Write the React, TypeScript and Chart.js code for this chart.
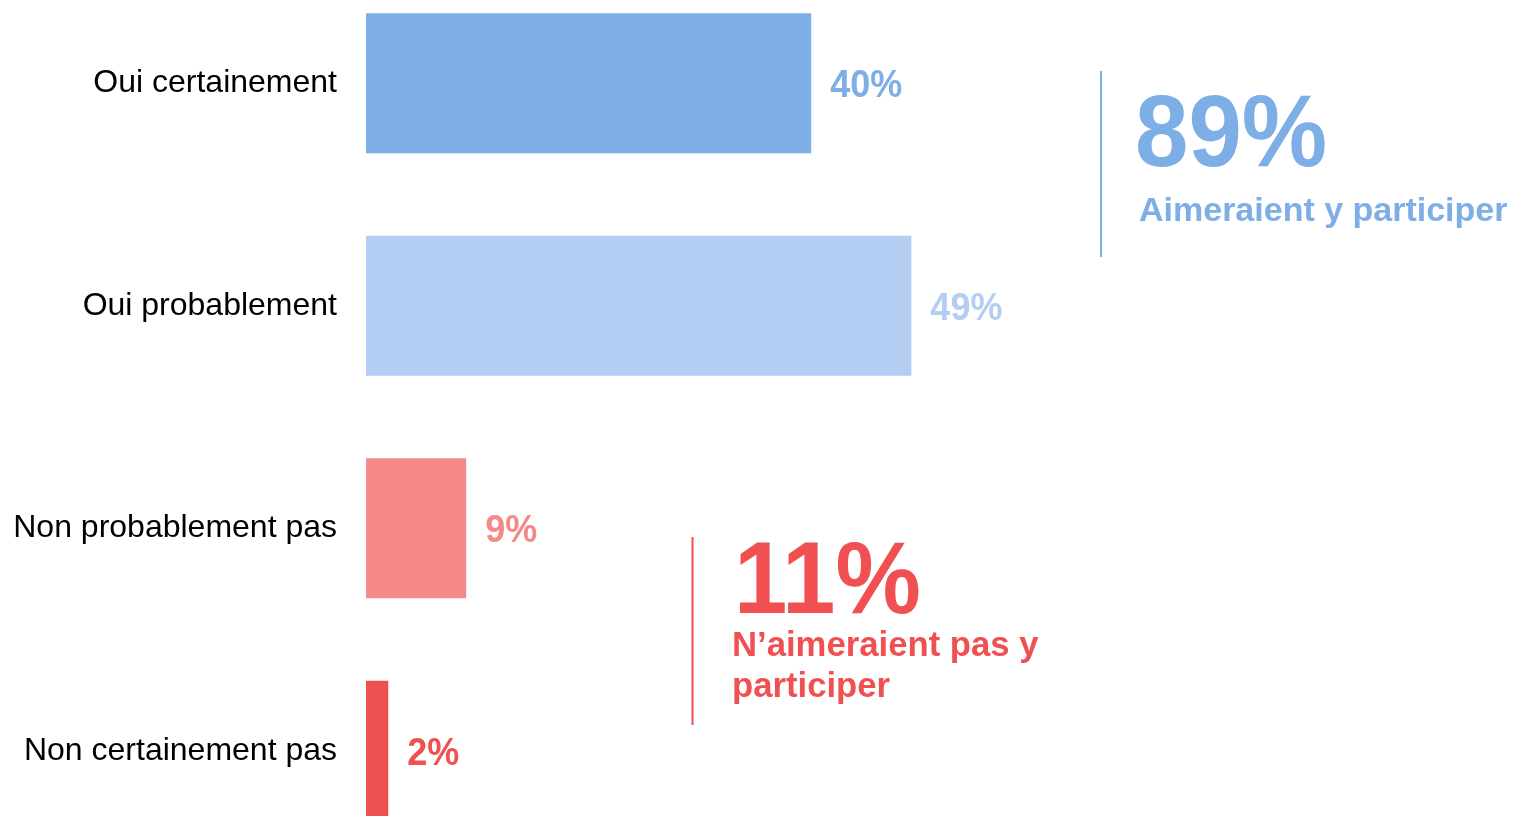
import React, { useEffect, useRef } from "react";
import { Chart, registerables } from "chart.js";

Chart.register(...registerables);

// ---- data ----
const categories = ["Oui certainement", "Oui probablement", "Non probablement pas", "Non certainement pas"];
const values = [40, 49, 9, 2];
const barColors = ["#7EAEE6", "#B3CEF2", "#F48987", "#EF5050"];
const positiveIndexes = [0, 1];
const negativeIndexes = [2, 3];
const positiveLabel = ["Aimeraient y participer"];
const negativeLabel = ["N\u2019aimeraient pas y", "participer"];
const blueColor = "#7EAEE6";
const redColor = "#F05052";

const FONT = '"Liberation Sans", Arial, Helvetica, sans-serif';
const SHIFT = 28; // canvas is shifted up by this many px

const sumOf = (idx: number[]) => idx.reduce((s, i) => s + values[i], 0);

function stretchedText(ctx: CanvasRenderingContext2D, t: string, x: number, y: number, sy: number) {
  ctx.save();
  ctx.translate(x, y);
  ctx.scale(1, sy);
  ctx.fillText(t, 0, 0);
  ctx.restore();
}

const labelsPlugin = {
  id: "valueAndSummary",
  afterDatasetsDraw(chart: any) {
    const ctx = chart.ctx as CanvasRenderingContext2D;
    const meta = chart.getDatasetMeta(0);
    ctx.save();
    ctx.textAlign = "left";
    ctx.textBaseline = "alphabetic";
    // value labels
    ctx.font = `bold 36px ${FONT}`;
    meta.data.forEach((bar: any, i: number) => {
      ctx.fillStyle = barColors[i];
      stretchedText(ctx, values[i] + "%", bar.x + 19, bar.y + 36 * 0.358 * 1.07, 1.07);
    });

    // positive summary
    ctx.strokeStyle = blueColor;
    ctx.lineWidth = 2;
    ctx.beginPath();
    ctx.moveTo(1101, 71 + SHIFT);
    ctx.lineTo(1101, 257 + SHIFT);
    ctx.stroke();
    ctx.fillStyle = blueColor;
    ctx.font = `bold 96px ${FONT}`;
    stretchedText(ctx, sumOf(positiveIndexes) + "%", 1135, 166 + SHIFT, 1.06);
    ctx.font = `bold 34px ${FONT}`;
    positiveLabel.forEach((t, k) => ctx.fillText(t, 1139, 221 + SHIFT + k * 41));

    // negative summary
    ctx.strokeStyle = redColor;
    ctx.beginPath();
    ctx.moveTo(692.5, 537 + SHIFT);
    ctx.lineTo(692.5, 725 + SHIFT);
    ctx.stroke();
    ctx.fillStyle = redColor;
    ctx.font = `bold 96px ${FONT}`;
    stretchedText(ctx, sumOf(negativeIndexes) + "%", 734, 613 + SHIFT, 1.06);
    ctx.font = `bold 34.7px ${FONT}`;
    negativeLabel.forEach((t, k) => ctx.fillText(t, 732, 656 + SHIFT + k * 41));
    ctx.restore();
  },
};

export default function App() {
  const ref = useRef<HTMLCanvasElement | null>(null);

  useEffect(() => {
    if (!ref.current) return;
    Chart.defaults.font.family = FONT;
    const chart = new Chart(ref.current, {
      type: "bar",
      data: {
        labels: categories,
        datasets: [
          {
            data: values,
            backgroundColor: barColors,
            borderWidth: 0,
            barPercentage: 0.63,
            categoryPercentage: 1,
          },
        ],
      },
      options: {
        indexAxis: "y",
        animation: false,
        responsive: true,
        maintainAspectRatio: false,
        layout: { padding: { left: 0, right: 40, top: 0, bottom: 0 } },
        plugins: {
          legend: { display: false },
          tooltip: { enabled: false },
        },
        scales: {
          x: {
            type: "linear",
            min: 0,
            max: 100,
            display: false,
          },
          y: {
            type: "category",
            grid: { display: false, drawTicks: false },
            border: { display: false },
            ticks: {
              color: "#000000",
              font: { size: 32, family: FONT },
              padding: 29,
            },
            afterFit: (scale: any) => {
              scale.width = 366;
              scale.paddingTop = 0;
              scale.paddingBottom = 0;
            },
          },
        },
      },
      plugins: [labelsPlugin],
    });
    return () => chart.destroy();
  }, []);

  return (
    <div
      style={{
        position: "fixed",
        left: 0,
        top: 0,
        width: 1519,
        height: 816,
        overflow: "hidden",
        background: "#ffffff",
      }}
    >
      <div style={{ position: "absolute", left: 0, top: -SHIFT, width: 1519, height: 890 }}>
        <canvas ref={ref} />
      </div>
    </div>
  );
}
